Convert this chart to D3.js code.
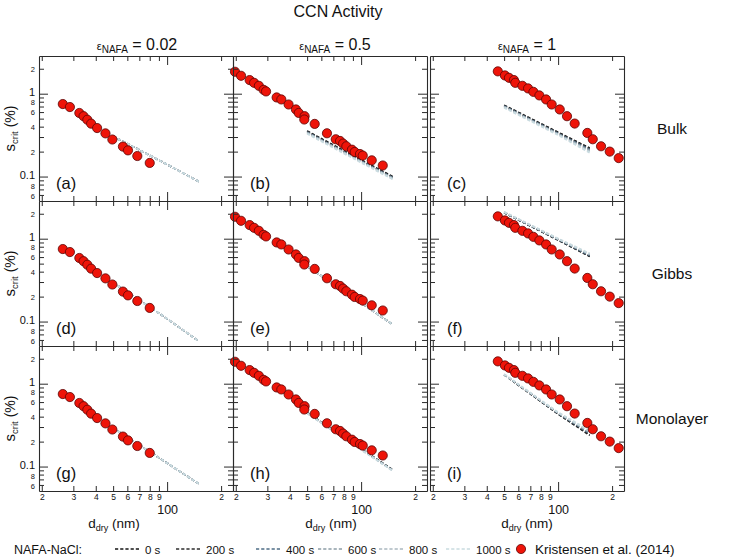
<!DOCTYPE html>
<html><head><meta charset="utf-8">
<script src="https://cdn.jsdelivr.net/npm/d3@7"></script>
<style>
body{margin:0;background:#fff}
svg{display:block}
text{font-family:"Liberation Sans",Arial,sans-serif;fill:#111}
</style>
</head><body>
<svg id="chart" width="731" height="559"></svg>
<script>
// ---------------- data ----------------
const epsilons = ["0.02", "0.5", "1"];
const rowNames = ["Bulk", "Gibbs", "Monolayer"];
const panelLetters = ["a","b","c","d","e","f","g","h","i"];
const times = ["0 s", "200 s", "400 s", "600 s", "800 s", "1000 s"];
const timeColors = ["#141414", "#2e2e2e", "#4f6d86", "#8d9da7", "#abb8c0", "#c9dbe0"];

const xTickValues = [20, 30, 40, 50, 60, 70, 80, 90, 100, 200];
const xTickLabels = ["2", "3", "4", "5", "6", "7", "8", "9", "100", "2"];
const yTickValues = [0.06, 0.07, 0.08, 0.09, 0.1, 0.2, 0.3, 0.4, 0.5, 0.6, 0.7, 0.8, 0.9, 1, 2];
const yTickLabels = ["6", "", "8", "", "0.1", "2", "", "4", "", "6", "", "8", "", "1", "2"];

// Kristensen et al. (2014) measurements, one set per epsilon column
const kDiam002 = [26.2, 28.7, 32.4, 34.2, 35.9, 37.7, 40.7, 45.3, 49.5, 56.7, 60.5, 68.2, 80.0];
const kS002    = [0.75, 0.69, 0.585, 0.535, 0.485, 0.435, 0.385, 0.332, 0.28, 0.23, 0.207, 0.177, 0.146];
const kDiam05  = [19.8, 21.4, 23.9, 25.3, 26.9, 28.6, 29.5, 33.8, 35.9, 39.4, 43.3, 44.9, 48.4, 48.2, 55.1, 64.5, 72.2, 76.3, 79.3, 82.7, 88.9, 92.1, 98.6, 102.1, 114.6, 132.0];
const kS05     = [1.84, 1.645, 1.46, 1.353, 1.245, 1.113, 1.065, 0.901, 0.852, 0.741, 0.645, 0.586, 0.535, 0.488, 0.432, 0.333, 0.282, 0.269, 0.250, 0.232, 0.211, 0.198, 0.187, 0.179, 0.157, 0.136];
const kDiam1   = [46.1, 50.5, 53.2, 56.7, 57.7, 63.2, 68.0, 72.8, 78.6, 85.7, 92.1, 102.1, 112.1, 123.7, 145.5, 156.0, 173.5, 194.0, 217.7];
const kS1      = [1.86, 1.66, 1.556, 1.46, 1.353, 1.245, 1.158, 1.053, 0.953, 0.852, 0.741, 0.645, 0.535, 0.436, 0.336, 0.282, 0.232, 0.200, 0.167];

// NAFA-NaCl model: s_crit at these dry diameters, one row per time (0..1000 s)
const lineDiam = [50, 100, 150];
const linesA = [[0.306,0.14,0.087],[0.306,0.14,0.087],[0.306,0.14,0.087],[0.306,0.14,0.087],[0.306,0.14,0.087],[0.306,0.14,0.087]];
const linesB = [[0.355,0.159,0.100],[0.352,0.157,0.099],[0.345,0.154,0.097],[0.340,0.152,0.096],[0.335,0.150,0.094],[0.330,0.148,0.093]];
const linesC = [[0.727,0.343,0.221],[0.720,0.338,0.217],[0.710,0.332,0.212],[0.700,0.327,0.206],[0.690,0.322,0.200],[0.680,0.318,0.195]];
const linesD = [[0.295,0.108,0.058],[0.295,0.108,0.058],[0.295,0.108,0.058],[0.295,0.108,0.058],[0.295,0.108,0.058],[0.295,0.108,0.058]];
const linesE = [[0.465,0.168,0.092],[0.465,0.168,0.092],[0.465,0.168,0.092],[0.465,0.168,0.092],[0.465,0.168,0.092],[0.465,0.168,0.092]];
const linesF = [[2.06,0.96,0.61],[2.06,0.965,0.615],[2.07,0.975,0.625],[2.08,0.985,0.64],[2.09,0.995,0.65],[2.10,1.00,0.66]];
const linesG = [[0.292,0.110,0.062],[0.292,0.110,0.062],[0.292,0.110,0.062],[0.292,0.110,0.062],[0.292,0.110,0.062],[0.292,0.110,0.062]];
const linesH = [[0.449,0.164,0.0915],[0.447,0.163,0.091],[0.445,0.162,0.0905],[0.443,0.161,0.090],[0.441,0.160,0.0895],[0.440,0.160,0.089]];
const linesI = [[1.28,0.43,0.238],[1.28,0.432,0.242],[1.29,0.438,0.25],[1.29,0.442,0.256],[1.30,0.446,0.263],[1.30,0.45,0.27]];

// ---------------- layout ----------------
const svg = d3.select("#chart");
const colLeft = [39, 233, 430];
const rowTop = [56, 201, 346];
const PW = 194, PH = 145;
const x = d3.scaleLog().domain([19.3, 233]).range([0, PW]);
const y = d3.scaleLog().domain([0.0507, 2.85]).range([PH, 0]);

const kDiam = [kDiam002, kDiam05, kDiam1];
const kS = [kS002, kS05, kS1];
const panelLines = [linesA, linesB, linesC, linesD, linesE, linesF, linesG, linesH, linesI];

const AX = "#2a2a2a";
const MAJ = 9, MIN = 5;
const TICKFONT = "DejaVu Sans, Verdana, sans-serif";

function styleAxis(g) {
  g.select(".domain").attr("stroke", AX).attr("stroke-width", 1.1);
  g.selectAll(".tick line").attr("stroke", AX).attr("stroke-width", 1);
}

const line = d3.line().x(d => x(d[0])).y(d => y(d[1]));

for (let r = 0; r < 3; r++) {
  for (let c = 0; c < 3; c++) {
    const p = r * 3 + c;
    const g = svg.append("g").attr("transform", `translate(${colLeft[c]},${rowTop[r]})`);

    // model lines
    panelLines[p].forEach((vals, t) => {
      g.append("path")
        .datum(lineDiam.map((d, i) => [d, vals[i]]))
        .attr("d", line)
        .attr("fill", "none")
        .attr("stroke", timeColors[t])
        .attr("stroke-width", t === 5 ? 2.1 : 1.6)
        .attr("stroke-dasharray", "3.2,2");
    });

    // measurements
    g.selectAll("circle.k").data(kDiam[c].map((d, i) => [d, kS[c][i]]))
      .enter().append("circle").attr("class", "k")
      .attr("cx", d => x(d[0])).attr("cy", d => y(d[1])).attr("r", 4.6)
      .attr("fill", "#ee1409").attr("stroke", "#5a0505").attr("stroke-width", 0.8);

    // axes (ticks point inward on all four sides)
    const isMajX = d => d === 100;
    const isMajY = d => d === 0.1 || d === 1;

    const gb = g.append("g").attr("transform", `translate(0,${PH})`)
      .call(d3.axisBottom(x).tickValues(xTickValues).tickSizeInner(-MIN).tickSizeOuter(0)
        .tickFormat((d, i) => r === 2 ? xTickLabels[i] : ""));
    styleAxis(gb);
    gb.selectAll(".tick line").attr("y2", d => isMajX(d) ? -MAJ : -MIN);
    gb.selectAll(".tick text").attr("font-size", 8.5).attr("fill", "#111")
      .attr("font-family", TICKFONT).attr("y", 3);
    gb.selectAll(".tick text").filter(d => d === 100)
      .attr("font-size", 12.5).attr("y", 14.5).attr("dy", "0.71em");

    const gt = g.append("g")
      .call(d3.axisTop(x).tickValues(xTickValues).tickSizeInner(-MIN).tickSizeOuter(0).tickFormat(""));
    styleAxis(gt);
    gt.selectAll(".tick line").attr("y2", d => isMajX(d) ? MAJ : MIN);

    const gl = g.append("g")
      .call(d3.axisLeft(y).tickValues(yTickValues).tickSizeInner(-MIN).tickSizeOuter(0)
        .tickFormat((d, i) => c === 0 ? yTickLabels[i] : ""));
    styleAxis(gl);
    gl.selectAll(".tick line").attr("x2", d => isMajY(d) ? MAJ : MIN);
    gl.selectAll(".tick text")
      .attr("font-size", d => isMajY(d) ? 11 : 7.5)
      .attr("dy", d => isMajY(d) ? "0.2em" : (d < 0.1 ? "0.5em" : "0.32em"))
      .attr("x", -4)
      .attr("fill", "#111").attr("font-family", TICKFONT);

    const gr = g.append("g").attr("transform", `translate(${PW},0)`)
      .call(d3.axisRight(y).tickValues(yTickValues).tickSizeInner(-MIN).tickSizeOuter(0).tickFormat(""));
    styleAxis(gr);
    gr.selectAll(".tick line").attr("x2", d => isMajY(d) ? -MAJ : -MIN);

    // panel letter
    g.append("text").attr("x", 17).attr("y", PH - 12).attr("font-size", 16.5)
      .text(`(${panelLetters[p]})`);
  }
}

// title
svg.append("text").attr("x", 338).attr("y", 17).attr("text-anchor", "middle")
  .attr("font-size", 16).text("CCN Activity");

// column headers
const headerX = [137, 335, 527];
epsilons.forEach((e, c) => {
  const t = svg.append("text").attr("x", headerX[c]).attr("y", 50).attr("text-anchor", "middle").attr("font-size", 16);
  t.append("tspan").attr("font-size", 11).text("ε");
  t.append("tspan").attr("font-size", 10).attr("dy", 3).text("NAFA");
  t.append("tspan").attr("dy", -3).text(" = " + e);
});

// row labels
rowNames.forEach((n, r) => {
  svg.append("text").attr("x", 672).attr("y", rowTop[r] + PH / 2 + 5)
    .attr("text-anchor", "middle").attr("font-size", 15.5).text(n);
});

// y-axis labels
rowTop.forEach(t => {
  const tx = svg.append("text").attr("transform", `translate(15,${t + PH / 2}) rotate(-90)`)
    .attr("text-anchor", "middle").attr("font-size", 15);
  tx.append("tspan").text("s");
  tx.append("tspan").attr("font-size", 9.5).attr("dy", 3).text("crit");
  tx.append("tspan").attr("dy", -3).attr("font-size", 14).text(" (%)");
});

// x-axis labels
const xLabX = [114, 331, 527];
xLabX.forEach(cx => {
  const tx = svg.append("text").attr("x", cx).attr("y", 528).attr("text-anchor", "middle").attr("font-size", 13.5);
  tx.append("tspan").text("d");
  tx.append("tspan").attr("font-size", 9).attr("dy", 3).text("dry");
  tx.append("tspan").attr("dy", -3).text(" (nm)");
});

// legend
const LY = 549;
svg.append("text").attr("x", 14).attr("y", LY + 4.5).attr("font-size", 12.5).text("NAFA-NaCl:");
const legX = [115, 176, 256, 318, 379, 446];
times.forEach((t, i) => {
  svg.append("line").attr("x1", legX[i]).attr("x2", legX[i] + 25).attr("y1", LY).attr("y2", LY)
    .attr("stroke", timeColors[i]).attr("stroke-width", 1.7).attr("stroke-dasharray", "3.2,2");
  svg.append("text").attr("x", legX[i] + 30).attr("y", LY + 4.5).attr("font-size", 11.5).text(t);
});
svg.append("circle").attr("cx", 521).attr("cy", LY).attr("r", 4.6)
  .attr("fill", "#ee1409").attr("stroke", "#5a0505").attr("stroke-width", 0.8);
svg.append("text").attr("x", 535).attr("y", LY + 4.5).attr("font-size", 13.5).text("Kristensen et al. (2014)");
</script>
</body></html>
